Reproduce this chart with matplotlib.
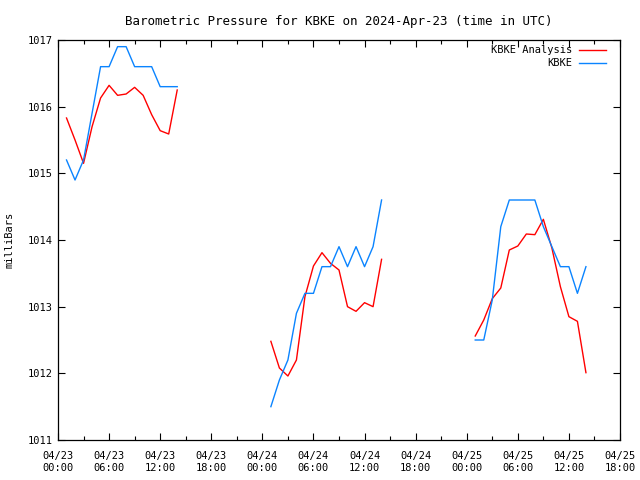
import matplotlib
matplotlib.use("Agg")
import matplotlib.pyplot as plt
from matplotlib.ticker import MultipleLocator, FixedLocator
import numpy as np

# hours since 2024-04-23 00:00 UTC, one list per run of reports
hours = [
    list(range(1, 15)),
    list(range(25, 39)),
    list(range(49, 63)),
]

# KBKE Analysis (red)
analysis = [
    [1015.83, 1015.50, 1015.15, 1015.70, 1016.13, 1016.32, 1016.17,
     1016.19, 1016.29, 1016.17, 1015.88, 1015.64, 1015.59, 1016.25],
    [1012.48, 1012.08, 1011.96, 1012.20, 1013.15, 1013.61, 1013.81,
     1013.65, 1013.55, 1013.00, 1012.93, 1013.06, 1013.00, 1013.71],
    [1012.56, 1012.80, 1013.12, 1013.28, 1013.85, 1013.91, 1014.09,
     1014.08, 1014.31, 1013.88, 1013.30, 1012.85, 1012.78, 1012.01],
]

# KBKE observations (blue)
observed = [
    [1015.2, 1014.9, 1015.2, 1015.9, 1016.6, 1016.6, 1016.9,
     1016.9, 1016.6, 1016.6, 1016.6, 1016.3, 1016.3, 1016.3],
    [1011.5, 1011.9, 1012.2, 1012.9, 1013.2, 1013.2, 1013.6,
     1013.6, 1013.9, 1013.6, 1013.9, 1013.6, 1013.9, 1014.6],
    [1012.5, 1012.5, 1013.1, 1014.2, 1014.6, 1014.6, 1014.6,
     1014.6, 1014.2, 1013.9, 1013.6, 1013.6, 1013.2, 1013.6],
]

tick_hours = list(range(0, 67, 6))
tick_labels = ["04/23\n00:00", "04/23\n06:00", "04/23\n12:00", "04/23\n18:00",
               "04/24\n00:00", "04/24\n06:00", "04/24\n12:00", "04/24\n18:00",
               "04/25\n00:00", "04/25\n06:00", "04/25\n12:00", "04/25\n18:00"]

plt.rcParams['font.family'] = ['DejaVu Sans Mono']
plt.rcParams['font.size'] = 7.5

fig = plt.figure(figsize=(6.4, 4.8), dpi=100)
ax = fig.add_axes([58 / 640, 40 / 480, 562 / 640, 400 / 480])

for i in range(len(hours)):
    ax.plot(hours[i], analysis[i], color='#ff0000', lw=1.0,
            label='KBKE Analysis' if i == 0 else None)
for i in range(len(hours)):
    ax.plot(hours[i], observed[i], color='#0a84ff', lw=1.0,
            label='KBKE' if i == 0 else None)

ax.set_xlim(0, 66)
ax.set_ylim(1011, 1017)
ax.xaxis.set_major_locator(FixedLocator(tick_hours))
ax.set_xticklabels(tick_labels)
ax.xaxis.set_minor_locator(MultipleLocator(3))
ax.yaxis.set_major_locator(MultipleLocator(1))
ax.yaxis.set_major_formatter(matplotlib.ticker.FormatStrFormatter('%d'))
ax.tick_params(which='both', direction='in', top=True, right=True, color='black')
ax.tick_params(which='major', length=5, width=0.8)
ax.tick_params(which='minor', length=3, width=0.8)
ax.tick_params(axis='x', pad=8)
ax.tick_params(axis='y', pad=4)
for s in ax.spines.values():
    s.set_linewidth(0.9)

ax.set_title("Barometric Pressure for KBKE on 2024-Apr-23 (time in UTC)", pad=11)
ax.set_ylabel("milliBars", labelpad=9)

ax.legend(loc='upper right', frameon=False, markerfirst=False,
          handlelength=2.6, handletextpad=0.7, borderaxespad=0.2,
          borderpad=0.3, labelspacing=0.3, fontsize=7.5,
          bbox_to_anchor=(0.985, 1.0))

fig.savefig("out.png", dpi=100)
